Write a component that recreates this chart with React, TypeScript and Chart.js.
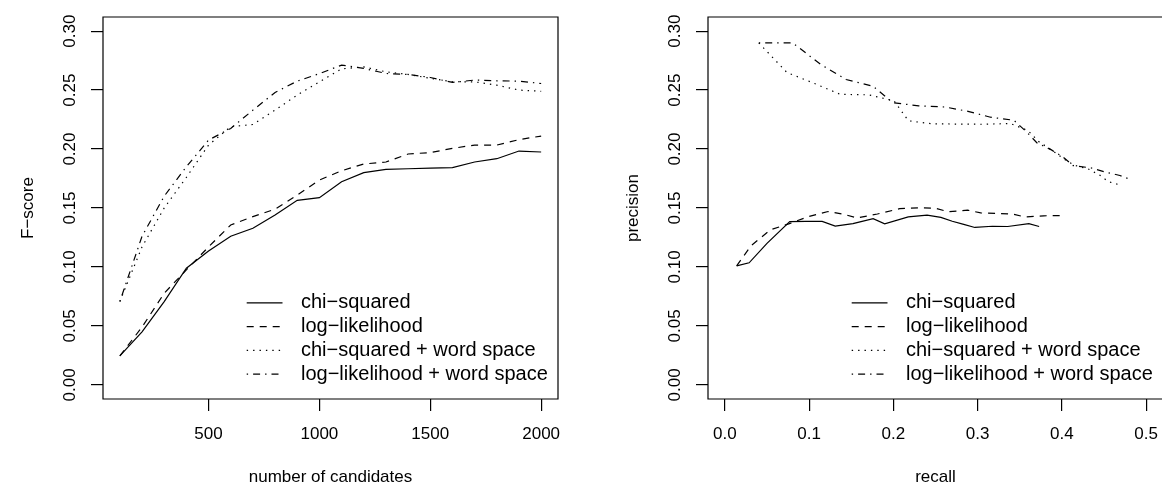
import React, { useEffect, useRef } from "react";
import { Chart, registerables } from "chart.js";

Chart.register(...registerables);

const FONT = "'Liberation Sans', Arial, Helvetica, sans-serif";

// ---- data ----
const candidates = [100, 200, 300, 400, 500, 600, 700, 800, 900, 1000, 1100, 1200, 1300, 1400, 1500, 1600, 1700, 1800, 1900, 2000];

const fscoreChi = [0.0246, 0.045, 0.0706, 0.0989, 0.1136, 0.126, 0.1328, 0.144, 0.1565, 0.1588, 0.1723, 0.18, 0.1828, 0.1833, 0.1839, 0.1842, 0.189, 0.1918, 0.1983, 0.1975];
const fscoreLl = [0.0246, 0.049, 0.0777, 0.0975, 0.117, 0.1356, 0.1427, 0.149, 0.161, 0.1737, 0.1816, 0.1873, 0.189, 0.1958, 0.197, 0.2006, 0.2034, 0.2034, 0.208, 0.211];
const fscoreChiWs = [0.0707, 0.117, 0.15, 0.176, 0.2034, 0.219, 0.2208, 0.233, 0.2458, 0.257, 0.268, 0.2697, 0.2655, 0.2633, 0.26, 0.2571, 0.257, 0.2542, 0.25, 0.249];
const fscoreLlWs = [0.0707, 0.126, 0.16, 0.185, 0.2076, 0.2175, 0.233, 0.248, 0.2576, 0.264, 0.2712, 0.2684, 0.2641, 0.2633, 0.2607, 0.2565, 0.2585, 0.2579, 0.2576, 0.2556];

const recallChi = [0.014, 0.0288, 0.05, 0.077, 0.0962, 0.1155, 0.131, 0.152, 0.176, 0.1897, 0.2177, 0.24, 0.2564, 0.2699, 0.2835, 0.2967, 0.3176, 0.3357, 0.3608, 0.373];
const precisionChi = [0.1009, 0.1035, 0.12, 0.1385, 0.1386, 0.1386, 0.1347, 0.1368, 0.1409, 0.1366, 0.1425, 0.144, 0.142, 0.1388, 0.1361, 0.1335, 0.1345, 0.1343, 0.1367, 0.1343];
const recallLl = [0.014, 0.031, 0.054, 0.0758, 0.0991, 0.1225, 0.1407, 0.157, 0.181, 0.2075, 0.2295, 0.2497, 0.2651, 0.2882, 0.3037, 0.3232, 0.3419, 0.356, 0.3784, 0.3986];
const precisionLl = [0.1009, 0.118, 0.1315, 0.1365, 0.1427, 0.147, 0.1447, 0.1416, 0.1449, 0.1494, 0.1502, 0.1498, 0.1468, 0.1482, 0.1458, 0.1454, 0.1448, 0.1424, 0.1434, 0.1435];
const recallChiWs = [0.0403, 0.0736, 0.1065, 0.1369, 0.1708, 0.2008, 0.2178, 0.246, 0.2765, 0.307, 0.3387, 0.3596, 0.3725, 0.3875, 0.4008, 0.4142, 0.4319, 0.4448, 0.455, 0.4703];
const precisionChiWs = [0.29, 0.265, 0.2556, 0.2464, 0.246, 0.2409, 0.224, 0.2214, 0.2212, 0.221, 0.2217, 0.2158, 0.2063, 0.1993, 0.1924, 0.1864, 0.1829, 0.1779, 0.1724, 0.1693];
const recallLlWs = [0.0403, 0.0806, 0.1133, 0.1439, 0.1759, 0.1994, 0.2301, 0.2618, 0.2898, 0.3153, 0.343, 0.3579, 0.3705, 0.3876, 0.4019, 0.4133, 0.4345, 0.4513, 0.4688, 0.4827];
const precisionLlWs = [0.29, 0.29, 0.272, 0.259, 0.2533, 0.2393, 0.2367, 0.2356, 0.2318, 0.227, 0.2244, 0.2147, 0.2052, 0.1993, 0.1929, 0.186, 0.184, 0.1805, 0.1776, 0.1738];

const seriesLabels = ["chi\u2212squared", "log\u2212likelihood", "chi\u2212squared + word space", "log\u2212likelihood + word space"];

const yTickValues = [0, 0.05, 0.1, 0.15, 0.2, 0.25, 0.3];
const leftXTicks = [500, 1000, 1500, 2000];
const rightXTicks = [0, 0.1, 0.2, 0.3, 0.4, 0.5];

// ---- styles ----
const dashStyles = [[], [7, 6], [1.4, 5], [1.4, 5, 7, 5]];
const LINE_W = 1.2;
const CANVAS_W = 605;

function pairs(xs: number[], ys: number[]) {
  return xs.map((x, i) => ({ x, y: ys[i] }));
}

const rStylePlugin = {
  id: "rStyle",
  afterDraw(chart: any, _args: any, opts: any) {
    const { ctx, chartArea: a } = chart;
    const ys = chart.scales.y;
    ctx.save();
    ctx.strokeStyle = "#000";
    ctx.lineWidth = 1.2;
    ctx.setLineDash([]);
    ctx.beginPath();
    ctx.moveTo(a.right, a.top);
    ctx.lineTo(a.left, a.top);
    ctx.lineTo(a.left, a.bottom);
    ctx.lineTo(a.right, a.bottom);
    if (opts.closeRight) ctx.closePath();
    ctx.stroke();

    // rotated y tick labels (R style, las = 0)
    ctx.fillStyle = "#000";
    ctx.font = `17px ${FONT}`;
    ctx.textAlign = "center";
    ctx.textBaseline = "alphabetic";
    ys.ticks.forEach((t: any) => {
      const y = ys.getPixelForValue(t.value);
      ctx.save();
      ctx.translate(a.left - 28, y);
      ctx.rotate(-Math.PI / 2);
      ctx.fillText(Number(t.value).toFixed(2), 0, 0);
      ctx.restore();
    });

    // legend (no box)
    const lx0 = a.left + 143.7;
    const lx1 = a.left + 179.5;
    const tx = a.left + 198;
    chart.data.datasets.forEach((ds: any, i: number) => {
      const y = a.top + 285.8 + i * 23.8;
      ctx.beginPath();
      ctx.setLineDash(ds.borderDash || []);
      ctx.lineWidth = ds.borderWidth;
      ctx.strokeStyle = ds.borderColor;
      ctx.moveTo(lx0, y);
      ctx.lineTo(lx1, y);
      ctx.stroke();
      ctx.setLineDash([]);
      ctx.font = `20px ${FONT}`;
      ctx.textAlign = "left";
      ctx.textBaseline = "middle";
      ctx.fillStyle = "#000";
      ctx.fillText(ds.label, tx, y);
    });
    ctx.restore();
  },
};

function makeConfig(panel: "left" | "right"): any {
  const isLeft = panel === "left";
  const seriesData = isLeft
    ? [pairs(candidates, fscoreChi), pairs(candidates, fscoreLl), pairs(candidates, fscoreChiWs), pairs(candidates, fscoreLlWs)]
    : [pairs(recallChi, precisionChi), pairs(recallLl, precisionLl), pairs(recallChiWs, precisionChiWs), pairs(recallLlWs, precisionLlWs)];
  const xTicks = isLeft ? leftXTicks : rightXTicks;
  const tickFont = { family: FONT, size: 17 };
  return {
    type: "line",
    data: {
      datasets: seriesData.map((d, i) => ({
        label: seriesLabels[i],
        data: d,
        borderColor: "#000",
        borderWidth: LINE_W,
        borderDash: dashStyles[i],
        pointRadius: 0,
        fill: false,
        tension: 0,
      })),
    },
    options: {
      responsive: false,
      animation: false,
      events: [],
      layout: { padding: { left: 0, right: 47, top: 17, bottom: 0 } },
      plugins: { legend: { display: false }, tooltip: { enabled: false }, rStyle: { closeRight: isLeft } },
      scales: {
        x: {
          type: "linear",
          min: isLeft ? 24 : -0.02,
          max: isLeft ? 2076 : 0.52,
          afterBuildTicks: (s: any) => {
            s.ticks = xTicks.map((value) => ({ value }));
          },
          afterFit: (s: any) => {
            s.height = 94;
          },
          grid: { drawOnChartArea: false, drawTicks: true, tickLength: 12, color: "#000", lineWidth: 1.2 },
          border: { display: false },
          ticks: {
            autoSkip: false,
            maxRotation: 0,
            minRotation: 0,
            padding: 12.9,
            color: "#000",
            font: tickFont,
            callback: (v: any) => (isLeft ? String(v) : Number(v).toFixed(1)),
          },
          title: {
            display: true,
            text: isLeft ? "number of candidates" : "recall",
            color: "#000",
            font: tickFont,
            padding: { top: 0, bottom: 5.7 },
          },
        },
        y: {
          type: "linear",
          min: -0.012,
          max: 0.312,
          afterBuildTicks: (s: any) => {
            s.ticks = yTickValues.map((value) => ({ value }));
          },
          afterFit: (s: any) => {
            s.width = 103;
          },
          grid: { drawOnChartArea: false, drawTicks: true, tickLength: 12, color: "#000", lineWidth: 1.2 },
          border: { display: false },
          ticks: { display: false },
          title: {
            display: true,
            text: isLeft ? "F\u2212score" : "precision",
            color: "#000",
            font: tickFont,
            padding: { top: 17.8, bottom: 0 },
          },
        },
      },
    },
    plugins: [rStylePlugin],
  };
}

function Panel({ panel, left }: { panel: "left" | "right"; left: number }) {
  const ref = useRef<HTMLCanvasElement>(null);
  useEffect(() => {
    const chart = new Chart(ref.current as HTMLCanvasElement, makeConfig(panel));
    return () => chart.destroy();
  }, [panel]);
  return (
    <canvas
      ref={ref}
      width={CANVAS_W}
      height={493}
      style={{ position: "absolute", left, top: 0, width: CANVAS_W, height: 493, display: "block" }}
    />
  );
}

export default function App() {
  return (
    <div
      style={{
        position: "fixed",
        left: 0,
        top: 0,
        width: 1162,
        height: 493,
        overflow: "hidden",
        background: "#fff",
      }}
    >
      <Panel panel="left" left={0} />
      <Panel panel="right" left={605} />
    </div>
  );
}
